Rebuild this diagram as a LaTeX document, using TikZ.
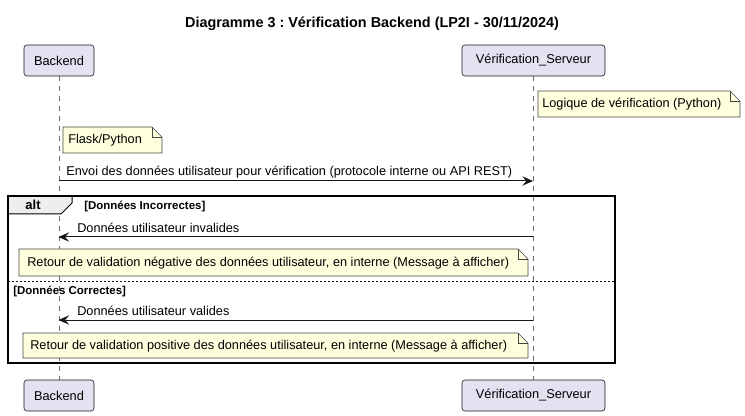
\documentclass[tikz,border=0pt]{standalone}
\usepackage{fontspec}
\setmainfont{Liberation Sans}
\usetikzlibrary{arrows.meta}
\frenchspacing

\definecolor{partfill}{HTML}{E2E2F0}
\definecolor{notefill}{HTML}{FEFFDD}
\definecolor{tabfill}{HTML}{EEEEEE}
\definecolor{linecol}{HTML}{181818}

\tikzset{
	part/.style={draw=linecol, fill=partfill, rounded corners=2.25pt, line width=0.45pt,
		minimum height=23.25pt, inner sep=0pt, font=\fontsize{9.6}{11}\selectfont},
	lifeline/.style={draw=linecol!65, line width=0.45pt, dash pattern=on 3.75pt off 3.75pt},
	msg/.style={draw=linecol, line width=0.75pt, -{Stealth[length=8pt, width=7pt, inset=3pt]}},
	msglabel/.style={anchor=west, inner sep=0pt, font=\fontsize{9.55}{11}\selectfont},
	note/.style={draw=linecol!80, fill=notefill, line width=0.45pt},
	fold/.style={draw=linecol!80, line width=0.45pt},
	frame/.style={draw=black, line width=1.3pt},
	guard/.style={anchor=west, inner sep=0pt, font=\bfseries\fontsize{8.6}{10}\selectfont},
}

\begin{document}
\begin{tikzpicture}[x=0.75pt, y=-0.75pt]
\useasboundingbox (0,0) rectangle (745,416);

	%% Titre
	\node[font=\bfseries\fontsize{10.8}{12}\selectfont] (title) at (372,24)
		{Diagramme 3 : Vérification Backend (LP2I - 30/11/2024)};

	%% Participants
	\node[part, minimum width=52.5pt] (bktop) at (59,60.5) {Backend};
	\node[part, minimum width=107.25pt] (svtop) at (533.5,60.5) {Vérification\_Serveur};
	\node[part, minimum width=52.5pt] (bkbot) at (59,395.5) {Backend};
	\node[part, minimum width=107.25pt] (svbot) at (533.5,395.5) {Vérification\_Serveur};

	\draw[lifeline] (bktop) -- (bkbot);
	\draw[lifeline] (svtop) -- (svbot);

	%% Notes
	\draw[note] (538,91) -- (730,91) -- (740,101) -- (740,117) -- (538,117) -- cycle;
	\draw[fold] (730,91) -- (730,101) -- (740,101);
	\node[msglabel] (nserv) at (542,104.5) {Logique de vérification (Python)};

	\draw[note] (63,127) -- (152,127) -- (162,137) -- (162,153) -- (63,153) -- cycle;
	\draw[fold] (152,127) -- (152,137) -- (162,137);
	\node[msglabel] (nflask) at (68,140.5) {Flask/Python};

	%% Envoi
	\coordinate (m1a) at (58.5,181);
	\coordinate (m1b) at (533,181);
	\draw[msg] (m1a) -- (m1b);
	\node[msglabel] (m1txt) at (66,172) {Envoi des données utilisateur pour vérification (protocole interne ou API REST)};

	%% Bloc alt
	\draw[draw=black, line width=0.75pt, fill=tabfill] (8,196) -- (72,196) -- (72,203) -- (61,214) -- (8,214) -- cycle;
	\draw[frame] (8,196) rectangle (615,363);
	\node[font=\bfseries\fontsize{9.75}{11}\selectfont, inner sep=0pt] (alt) at (33,205) {alt};
	\node[guard] (g1) at (84,206) {[Données Incorrectes]};

	\coordinate (m2a) at (533,237);
	\coordinate (m2b) at (58.5,237);
	\draw[msg] (m2a) -- (m2b);
	\node[msglabel] (m2txt) at (77,227.5) {Données utilisateur invalides};

	\draw[note] (19,249) -- (518,249) -- (528,259) -- (528,276) -- (19,276) -- cycle;
	\draw[fold] (518,249) -- (518,259) -- (528,259);
	\node[msglabel] (nneg) at (27,263.5) {Retour de validation négative des données utilisateur, en interne (Message à afficher)};

	\draw[draw=linecol, line width=0.6pt, dash pattern=on 1.5pt off 1.5pt] (8,281) -- (615,281);
	\node[guard] (g2) at (13,291) {[Données Correctes]};

	\coordinate (m3a) at (533,320);
	\coordinate (m3b) at (58.5,320);
	\draw[msg] (m3a) -- (m3b);
	\node[msglabel] (m3txt) at (77,310.5) {Données utilisateur valides};

	\draw[note] (23,333) -- (518,333) -- (528,343) -- (528,358) -- (23,358) -- cycle;
	\draw[fold] (518,333) -- (518,343) -- (528,343);
	\node[msglabel] (npos) at (30,346) {Retour de validation positive des données utilisateur, en interne (Message à afficher)};

\end{tikzpicture}
\end{document}
